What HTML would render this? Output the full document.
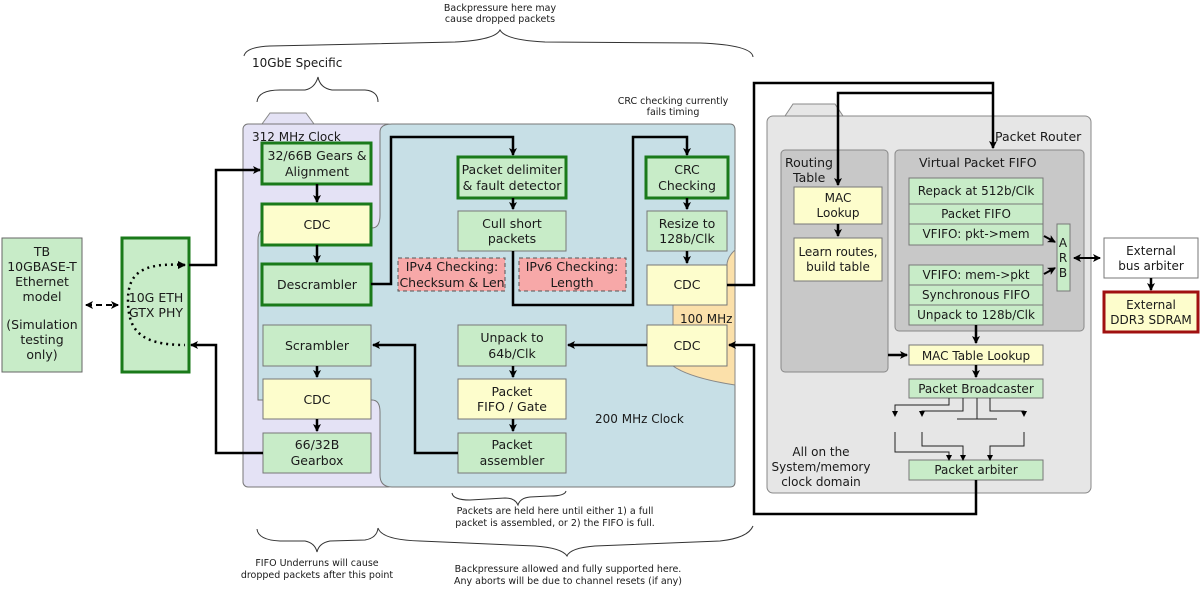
<!DOCTYPE html>
<html><head><meta charset="utf-8"><style>
html,body{margin:0;padding:0;background:#fff;}
svg{display:block;}
text{font-family:"DejaVu Sans","Liberation Sans",sans-serif;fill:#1a1a1a;}
</style></head><body>
<svg width="1200" height="598" viewBox="0 0 1200 598" xmlns="http://www.w3.org/2000/svg">
<defs>
<marker id="a" markerWidth="8" markerHeight="8" refX="7" refY="4" orient="auto" markerUnits="userSpaceOnUse"><path d="M0,0 L8,4 L0,8 L2,4 z" fill="#000"/></marker>
<marker id="as" markerWidth="6" markerHeight="6" refX="5" refY="3" orient="auto" markerUnits="userSpaceOnUse"><path d="M0,0 L6,3 L0,6 z" fill="#000"/></marker>
<marker id="ab" markerWidth="8" markerHeight="8" refX="1" refY="4" orient="auto" markerUnits="userSpaceOnUse"><path d="M8,0 L0,4 L8,8 L6,4 z" fill="#000"/></marker>
</defs>

<g font-size="9.5" text-anchor="middle">
<text x="500" y="11">Backpressure here may</text>
<text x="500" y="22">cause dropped packets</text>
<text x="673" y="104">CRC checking currently</text>
<text x="673" y="115">fails timing</text>
<text x="555" y="514">Packets are held here until either 1) a full</text>
<text x="555" y="526">packet is assembled, or 2) the FIFO is full.</text>
<text x="317" y="566">FIFO Underruns will cause</text>
<text x="317" y="578">dropped packets after this point</text>
<text x="568" y="572">Backpressure allowed and fully supported here.</text>
<text x="568" y="584">Any aborts will be due to channel resets (if any)</text>
</g>
<text x="252" y="67" font-size="12">10GbE Specific</text>
<g fill="none" stroke="#333" stroke-width="1">
<path d="M244,56 Q246,47 270,46 L455,42 Q495,40 500,30 Q505,40 545,42 L700,43 Q752,45 753,57"/>
<path d="M257,102 Q258,90 280,90 L305,90 Q315,88 318,77 Q320,88 332,90 L365,90 Q378,91 378,102"/>
<path d="M452,493 Q453,500 470,500 L505,498 Q515,498 518,505 Q520,498 530,497 L550,496 Q565,496 566,491"/>
<path d="M257,529 Q258,540 280,541 L305,541 Q315,543 317,552 Q319,543 330,541 L365,540 Q377,538 378,528"/>
<path d="M378,528 Q382,540 420,541 L535,546 Q562,548 567,556 Q570,548 595,546 L720,541 Q748,538 753,526"/>
</g>

<path d="M262,124 L270,113 L306,113 L314,124 Z" fill="#e4e2f5" stroke="#888"/>
<rect x="243" y="124" width="150" height="363" rx="5" fill="#e4e2f5" stroke="#777"/>
<path d="M392,124 L730,124 Q735,124 735,130 L735,482 Q735,487 730,487 L392,487 Q380,487 380,475 L380,412 Q380,400 372,400 L258,400 L258,240 Q258,228 268,228 L372,228 Q380,228 380,215 L380,132 Q380,124 392,124 Z" fill="#c7dfe6" stroke="#777"/>
<path d="M735,250 Q726,258 727,268 L727,305 L673,305 L673,366 Q690,378 735,385 Z" fill="#fbe0aa" stroke="#888"/>
<text x="252" y="141" font-size="12">312 MHz Clock</text>
<text x="595" y="423" font-size="12">200 MHz Clock</text>
<text x="680" y="323" font-size="12">100 MHz</text>

<g font-size="12.5" text-anchor="middle">
<rect x="2" y="238" width="80" height="134" fill="#c8ecc8" stroke="#666"/>
<text x="42" y="256">TB</text><text x="42" y="271">10GBASE-T</text><text x="42" y="286">Ethernet</text><text x="42" y="301">model</text>
<text x="42" y="329">(Simulation</text><text x="42" y="344">testing</text><text x="42" y="359">only)</text>
<rect x="122" y="238" width="67" height="134" fill="#c8ecc8" stroke="#1a7a1a" stroke-width="3"/>
<text x="156" y="302">10G ETH</text><text x="156" y="317">GTX PHY</text>

<rect x="262" y="143" width="109" height="41" fill="#c8ecc8" stroke="#1a7a1a" stroke-width="3"/>
<text x="317" y="160">32/66B Gears &amp;</text><text x="317" y="176">Alignment</text>
<rect x="262" y="204" width="109" height="41" fill="#fdfdcc" stroke="#1a7a1a" stroke-width="3"/>
<text x="317" y="229">CDC</text>
<rect x="262" y="264" width="109" height="41" fill="#c8ecc8" stroke="#1a7a1a" stroke-width="3"/>
<text x="317" y="289">Descrambler</text>
<rect x="263" y="325" width="108" height="41" fill="#c8ecc8" stroke="#777"/>
<text x="317" y="350">Scrambler</text>
<rect x="263" y="379" width="108" height="40" fill="#fdfdcc" stroke="#777"/>
<text x="317" y="404">CDC</text>
<rect x="263" y="433" width="108" height="40" fill="#c8ecc8" stroke="#777"/>
<text x="317" y="449">66/32B</text><text x="317" y="465">Gearbox</text>

<rect x="458" y="157" width="108" height="41" fill="#c8ecc8" stroke="#1a7a1a" stroke-width="3"/>
<text x="512" y="174">Packet delimiter</text><text x="512" y="190">&amp; fault detector</text>
<rect x="458" y="211" width="108" height="40" fill="#c8ecc8" stroke="#777"/>
<text x="512" y="228">Cull short</text><text x="512" y="243">packets</text>
<rect x="398" y="258" width="107" height="33" fill="#f7a8a8" stroke="#555" stroke-dasharray="4,3"/>
<text x="452" y="271">IPv4 Checking:</text><text x="452" y="287">Checksum &amp; Len</text>
<rect x="519" y="258" width="107" height="33" fill="#f7a8a8" stroke="#555" stroke-dasharray="4,3"/>
<text x="572" y="271">IPv6 Checking:</text><text x="572" y="287">Length</text>
<rect x="458" y="325" width="108" height="41" fill="#c8ecc8" stroke="#777"/>
<text x="512" y="342">Unpack to</text><text x="512" y="358">64b/Clk</text>
<rect x="458" y="379" width="108" height="40" fill="#fdfdcc" stroke="#777"/>
<text x="512" y="396">Packet</text><text x="512" y="411">FIFO / Gate</text>
<rect x="458" y="433" width="108" height="40" fill="#c8ecc8" stroke="#777"/>
<text x="512" y="449">Packet</text><text x="512" y="465">assembler</text>

<rect x="646" y="157" width="82" height="41" fill="#c8ecc8" stroke="#1a7a1a" stroke-width="3"/>
<text x="687" y="174">CRC</text><text x="687" y="190">Checking</text>
<rect x="647" y="211" width="80" height="40" fill="#c8ecc8" stroke="#777"/>
<text x="687" y="228">Resize to</text><text x="687" y="243">128b/Clk</text>
<rect x="647" y="265" width="80" height="40" fill="#fdfdcc" stroke="#777"/>
<text x="687" y="289">CDC</text>
<rect x="647" y="325" width="80" height="41" fill="#fdfdcc" stroke="#777"/>
<text x="687" y="350">CDC</text>
</g>

<path d="M785,116 L793,104 L835,104 L843,116 Z" fill="#e6e6e6" stroke="#888"/>
<rect x="767" y="116" width="324" height="377" rx="6" fill="#e6e6e6" stroke="#888"/>
<rect x="781" y="150" width="107" height="222" rx="4" fill="#c8c8c8" stroke="#888"/>
<rect x="895" y="150" width="189" height="181" rx="4" fill="#c8c8c8" stroke="#888"/>
<g font-size="12.5">
<text x="995" y="141">Packet Router</text>
<text x="785" y="167">Routing</text><text x="793" y="182">Table</text>
<text x="919" y="167">Virtual Packet FIFO</text>
</g>
<g font-size="12" text-anchor="middle">
<rect x="794" y="187" width="88" height="37" fill="#fdfdcc" stroke="#777"/>
<text x="838" y="202">MAC</text><text x="838" y="217">Lookup</text>
<rect x="794" y="238" width="88" height="43" fill="#fdfdcc" stroke="#777"/>
<text x="838" y="256">Learn routes,</text><text x="838" y="271">build table</text>
<rect x="909" y="178" width="134" height="26" fill="#c8ecc8" stroke="#777"/>
<text x="976" y="195">Repack at 512b/Clk</text>
<rect x="909" y="204" width="134" height="20" fill="#c8ecc8" stroke="#777"/>
<text x="976" y="218">Packet FIFO</text>
<rect x="909" y="224" width="134" height="21" fill="#c8ecc8" stroke="#777"/>
<text x="976" y="238">VFIFO: pkt-&gt;mem</text>
<rect x="909" y="265" width="134" height="20" fill="#c8ecc8" stroke="#777"/>
<text x="976" y="279">VFIFO: mem-&gt;pkt</text>
<rect x="909" y="285" width="134" height="20" fill="#c8ecc8" stroke="#777"/>
<text x="976" y="299">Synchronous FIFO</text>
<rect x="909" y="305" width="134" height="20" fill="#c8ecc8" stroke="#777"/>
<text x="976" y="319">Unpack to 128b/Clk</text>
<rect x="1057" y="224" width="13" height="67" fill="#c8ecc8" stroke="#777"/>
<text x="1063" y="247">A</text><text x="1063" y="262">R</text><text x="1063" y="277">B</text>
<rect x="909" y="345" width="134" height="20" fill="#fdfdcc" stroke="#777"/>
<text x="976" y="360">MAC Table Lookup</text>
<rect x="909" y="379" width="134" height="19" fill="#c8ecc8" stroke="#777"/>
<text x="976" y="393">Packet Broadcaster</text>
<rect x="909" y="460" width="134" height="20" fill="#c8ecc8" stroke="#777"/>
<text x="976" y="474">Packet arbiter</text>
<text x="821" y="456">All on the</text><text x="821" y="471">System/memory</text><text x="821" y="486">clock domain</text>
<rect x="1104" y="238" width="94" height="40" fill="#fff" stroke="#777"/>
<text x="1151" y="255">External</text><text x="1151" y="270">bus arbiter</text>
<rect x="1104" y="292" width="94" height="40" fill="#fdfdcc" stroke="#a01010" stroke-width="3"/>
<text x="1151" y="309">External</text><text x="1151" y="324">DDR3 SDRAM</text>
</g>

<g fill="none" stroke="#000" stroke-width="2.5">
<path d="M189,265 L216,265 L216,170 L260,170" marker-end="url(#a)"/>
<path d="M263,453 L216,453 L216,345 L191,345" marker-end="url(#a)"/>
<path d="M317,184 L317,202" marker-end="url(#a)"/>
<path d="M317,245 L317,262" marker-end="url(#a)"/>
<path d="M317,366 L317,377" marker-end="url(#a)"/>
<path d="M317,419 L317,431" marker-end="url(#a)"/>
<path d="M371,284 L391,284 L391,137 L513,137 L513,155" marker-end="url(#a)"/>
<path d="M513,198 L513,209" marker-end="url(#a)"/>
<path d="M513,251 L513,305 L633,305 L633,137 L687,137 L687,155" marker-end="url(#a)"/>
<path d="M687,198 L687,209" marker-end="url(#a)"/>
<path d="M687,251 L687,263" marker-end="url(#a)"/>
<path d="M727,285 L754,285 L754,83 L993,83 L993,148" marker-end="url(#a)"/>
<path d="M993,93 L838,93 L838,185" marker-end="url(#a)"/>
<path d="M838,224 L838,236" marker-end="url(#a)"/>
<path d="M976,480 L976,514 L754,514 L754,345 L729,345" marker-end="url(#a)"/>
<path d="M647,345 L568,345" marker-end="url(#a)"/>
<path d="M513,366 L513,377" marker-end="url(#a)"/>
<path d="M513,419 L513,431" marker-end="url(#a)"/>
<path d="M458,453 L415,453 L415,345 L373,345" marker-end="url(#a)"/>
<path d="M976,325 L976,343" marker-end="url(#a)"/>
<path d="M888,355 L907,355" marker-end="url(#a)"/>
<path d="M976,365 L976,377" marker-end="url(#a)"/>
<path d="M1151,278 L1151,290" marker-end="url(#a)"/>
</g>
<g fill="none" stroke="#000" stroke-width="2">
<path d="M1044,236 L1055,242" marker-end="url(#a)"/>
<path d="M1044,274 L1055,268" marker-end="url(#a)"/>
<path d="M1074,258 L1100,258" marker-start="url(#ab)" marker-end="url(#a)"/>
<path d="M86,305 L118,305" stroke-dasharray="6,4" marker-start="url(#ab)" marker-end="url(#a)"/>
<path d="M185,265 C140,262 128,275 128,300 C128,330 140,345 185,345" stroke-dasharray="2,4" stroke-width="2.5"/>
</g>
<path d="M178,261 L186,265 L178,269 Z" fill="#000"/>
<g fill="none" stroke="#222" stroke-width="1">
<path d="M949,398 L949,405 L895,405 L895,416" marker-end="url(#as)"/>
<path d="M963,398 L963,411 L922,411 L922,416" marker-end="url(#as)"/>
<path d="M977,398 L977,419 M957,419 L997,419"/>
<path d="M990,398 L990,411 L1024,411 L1024,416" marker-end="url(#as)"/>
<path d="M895,432 L895,452 L949,452 L949,460" marker-end="url(#as)"/>
<path d="M922,432 L922,446 L963,446 L963,460" marker-end="url(#as)"/>
<path d="M1024,432 L1024,446 L990,446 L990,460" marker-end="url(#as)"/>
</g>
</svg>
</body></html>
